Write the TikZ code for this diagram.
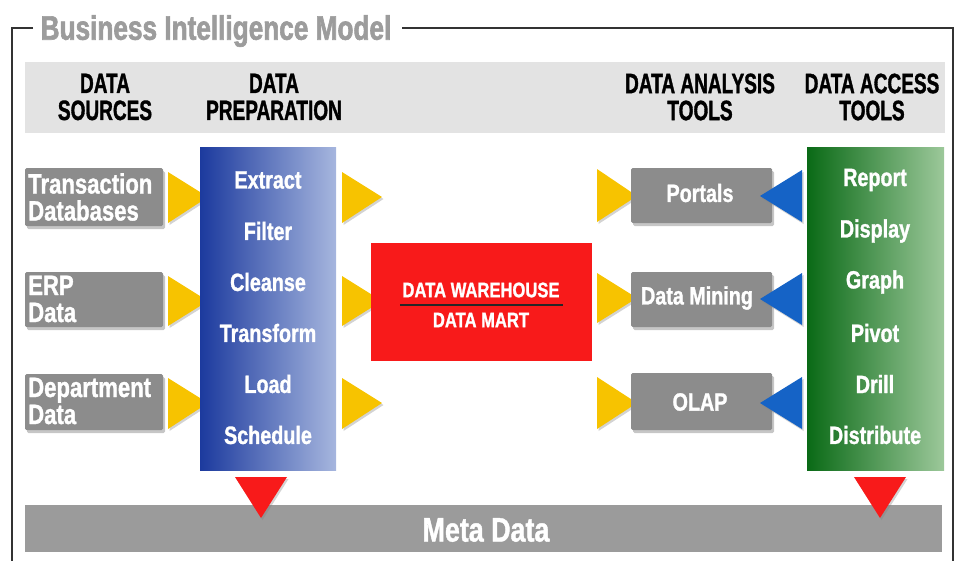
\documentclass[tikz,border=0pt]{standalone}
\usepackage{fontspec}
\setmainfont{Liberation Sans}
\newfontfamily\hfont{Liberation Sans Bold}[FakeStretch=0.68, FakeBold=1.2]
\newfontfamily\bfont{Liberation Sans Bold}[FakeStretch=0.79, FakeBold=1.2]
\newfontfamily\tfont{Liberation Sans Bold}[FakeStretch=0.77, FakeBold=1.8]
\usetikzlibrary{shadows}
\definecolor{hdrgray}{HTML}{E3E3E3}
\definecolor{boxgray}{HTML}{8C8C8C}
\definecolor{metagray}{HTML}{9B9B9B}
\definecolor{blueL}{HTML}{1C3A9E}
\definecolor{blueR}{HTML}{A6B6DE}
\definecolor{greenL}{HTML}{0A6A16}
\definecolor{greenR}{HTML}{9CC89A}
\definecolor{whred}{HTML}{F81A1A}
\definecolor{tyellow}{HTML}{F7C300}
\definecolor{tblue}{HTML}{1563C6}
\definecolor{titlegray}{HTML}{9C9C9C}
\tikzset{
  hdr/.style={font=\hfont\fontsize{28}{27}\selectfont, align=center, text=black, inner sep=0},
  graybox/.style={fill=boxgray, draw=none, rounded corners=1.5pt, drop shadow={shadow xshift=2pt, shadow yshift=-3pt, opacity=0.45}},
  btxt/.style={font=\bfont\fontsize{25}{25}\selectfont, text=white, inner sep=0},
  stxt/.style={font=\bfont\fontsize{28}{27}\selectfont, text=white, inner sep=0, align=left, anchor=west},
  ytri/.style={fill=tyellow, drop shadow={shadow xshift=1.5pt, shadow yshift=-2pt, opacity=0.35}},
  btri/.style={fill=tblue, drop shadow={shadow xshift=1.5pt, shadow yshift=-2pt, opacity=0.35}},
  rtri/.style={fill=whred, drop shadow={shadow xshift=1.5pt, shadow yshift=-2pt, opacity=0.35}},
}
\begin{document}
\begin{tikzpicture}[x=1pt, y=-1pt]
\useasboundingbox (0,0) rectangle (957,560);
% frame
\draw[line width=1.3pt, black!80] (33,28) -- (12,28) -- (12,562);
\draw[line width=1.3pt, black!80] (402,28) -- (953,28) -- (953,562);
\node[font=\tfont\fontsize{34}{34}\selectfont, text=titlegray, inner sep=0] (title) at (216,31) {Business Intelligence Model};
% header band
\fill[hdrgray] (25,62) rectangle (945,133);
\node[hdr] (h1) at (105,97) {DATA\\SOURCES};
\node[hdr] (h2) at (274,97) {DATA\\PREPARATION};
\node[hdr] (h3) at (700,97) {DATA ANALYSIS\\TOOLS};
\node[hdr] (h4) at (872,97) {DATA ACCESS\\TOOLS};
% sources
\path[graybox] (25,168) rectangle (163,226);
\path[graybox] (25,272) rectangle (163,327);
\path[graybox] (25,374) rectangle (163,430);
\node[stxt] (s1) at (28,197) {Transaction\\Databases};
\node[stxt] (s2) at (28,299) {ERP\\Data};
\node[stxt] (s3) at (28,401) {Department\\Data};
% yellow triangles sources -> prep
\fill[ytri] (168,172) -- (208,197) -- (168,223) -- cycle;
\fill[ytri] (168,276) -- (208,301) -- (168,326) -- cycle;
\fill[ytri] (168,378) -- (208,403) -- (168,429) -- cycle;
% prep box
\shade[left color=blueL, right color=blueR] (200,147) rectangle (336,470);
\node[btxt] (p1) at (268,180) {Extract};
\node[btxt] (p2) at (268,231) {Filter};
\node[btxt] (p3) at (268,282) {Cleanse};
\node[btxt] (p4) at (268,333) {Transform};
\node[btxt] (p5) at (268,384) {Load};
\node[btxt] (p6) at (268,435) {Schedule};
% yellow triangles prep -> warehouse
\fill[ytri] (342,172) -- (382,197) -- (342,223) -- cycle;
\fill[ytri] (342,276) -- (382,301) -- (342,326) -- cycle;
\fill[ytri] (342,378) -- (382,403) -- (342,429) -- cycle;
% warehouse
\fill[whred] (371,243) rectangle (592,361);
\node[font=\bfont\fontsize{21}{21}\selectfont, text=white, inner sep=0] (dw) at (481,290) {DATA WAREHOUSE};
\node[font=\bfont\fontsize{21}{21}\selectfont, text=white, inner sep=0] (dm) at (481,320) {DATA MART};
\draw[line width=1.5pt, black!85] (400,305) -- (563,305);
% yellow triangles -> analysis
\fill[ytri] (597,169) -- (637,196) -- (597,222) -- cycle;
\fill[ytri] (597,273) -- (637,298) -- (597,323) -- cycle;
\fill[ytri] (597,377) -- (637,403) -- (597,429) -- cycle;
% analysis boxes
\path[graybox] (631,168) rectangle (772,223);
\path[graybox] (631,272) rectangle (772,327);
\path[graybox] (631,373) rectangle (772,430);
\node[btxt] (a1) at (700,193) {Portals};
\node[btxt] (a2) at (697,298) {Data Mining};
\node[btxt] (a3) at (700,402) {OLAP};
% blue triangles
\fill[btri] (802,170) -- (760,196) -- (802,222) -- cycle;
\fill[btri] (802,273) -- (760,299) -- (802,325) -- cycle;
\fill[btri] (802,377) -- (760,403) -- (802,429) -- cycle;
% access box
\shade[left color=greenL, right color=greenR] (807,147) rectangle (944,470);
\node[btxt] (t1) at (875,180) {Report};
\node[btxt] (t2) at (875,231) {Display};
\node[btxt] (t3) at (875,282) {Graph};
\node[btxt] (t4) at (875,333) {Pivot};
\node[btxt] (t5) at (875,384) {Drill};
\node[btxt] (t6) at (875,435) {Distribute};
% meta data bar
\fill[metagray] (25,505) rectangle (942,552);
\node[font=\bfont\fontsize{34}{34}\selectfont, text=white, inner sep=0] (meta) at (486,530) {Meta Data};
% red down triangles
\fill[rtri] (235,477) -- (287,477) -- (261,518) -- cycle;
\fill[rtri] (854,477) -- (906,477) -- (880,518) -- cycle;
\end{tikzpicture}
\end{document}
